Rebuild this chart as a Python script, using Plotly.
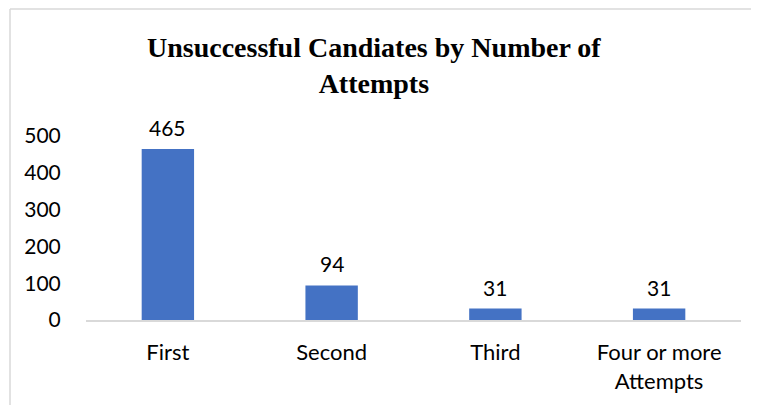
import plotly.graph_objects as go

categories = ["First", "Second", "Third", "Four or more<br>Attempts"]
values = [465, 94, 31, 31]
y_ticks = [0, 100, 200, 300, 400, 500]
title_text = "Unsuccessful Candiates by Number of<br>Attempts"

BAR_COLOR = "#4472C4"
LABEL_FONT = "Lato, Open Sans, sans-serif"

# plot area 655 x 184 px
L, T, R, B = 78, 128, 26, 93
PW, PH = 655, 184

fig = go.Figure()
fig.add_trace(go.Bar(
    x=categories, y=values,
    marker=dict(color=BAR_COLOR, line=dict(width=0)),
    cliponaxis=False,
    hoverinfo="skip",
))

for c, v in zip(categories, values):
    fig.add_annotation(
        x=c, y=v, text=str(v), showarrow=False,
        yanchor="bottom", yshift=7,
        font=dict(family=LABEL_FONT, size=21, color="#000000"),
    )

fig.update_layout(
    width=759, height=405,
    margin=dict(l=L, r=R, t=T, b=B),
    paper_bgcolor="white", plot_bgcolor="white",
    showlegend=False,
    bargap=0.68,
    title=dict(
        text="<b>" + title_text + "</b>",
        x=0.482, xanchor="center", xref="container",
        y=0.88, yanchor="bottom", yref="container",
        font=dict(family="Liberation Serif, Times New Roman, serif", size=28, color="#000000"),
    ),
    xaxis=dict(
        showline=True, linecolor="#D9D9D9", linewidth=1.5,
        showgrid=False, zeroline=False,
        ticks="outside", ticklen=12, tickcolor="rgba(0,0,0,0)",
        tickfont=dict(family=LABEL_FONT, size=22, color="#000000"),
    ),
    yaxis=dict(
        range=[0, 500], tickvals=y_ticks,
        showline=False, showgrid=False, zeroline=False,
        ticks="outside", ticklen=20, tickcolor="rgba(0,0,0,0)",
        tickfont=dict(family=LABEL_FONT, size=21, color="#000000"),
    ),
    shapes=[
        dict(type="line", xref="paper", yref="paper",
             x0=-(L - 2) / PW, x1=1 + R / PW, y0=1 + (T - 1) / PH, y1=1 + (T - 1) / PH,
             line=dict(color="#D9D9D9", width=1.5)),
        dict(type="line", xref="paper", yref="paper",
             x0=-(L - 2) / PW, x1=-(L - 2) / PW, y0=1 + (T - 1) / PH, y1=-B / PH,
             line=dict(color="#D9D9D9", width=1.5)),
    ],
)

fig.write_html("out.html")
